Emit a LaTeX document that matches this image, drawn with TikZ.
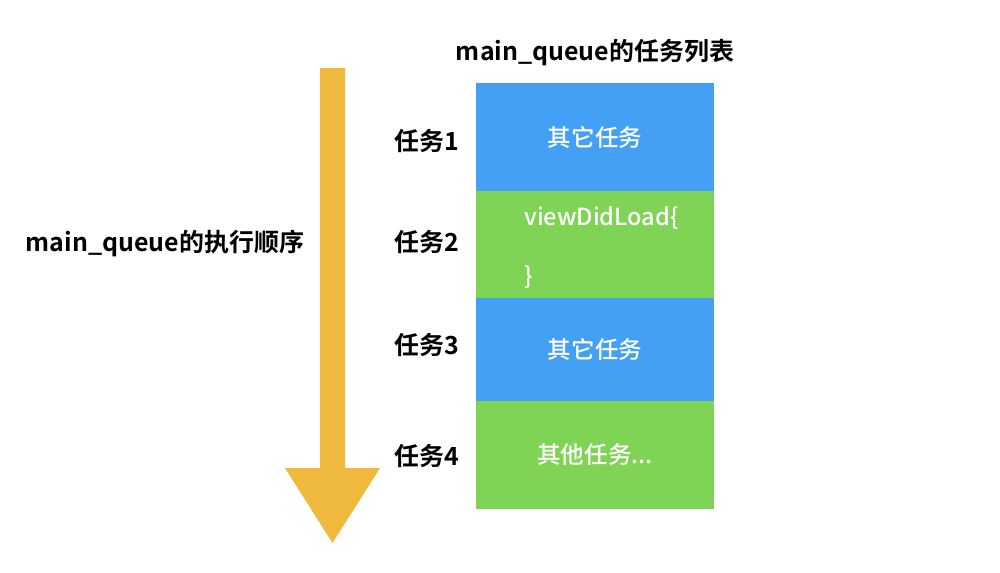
\documentclass[tikz,border=0pt]{standalone}
\usepackage{fontspec}
\setmainfont{Noto Sans CJK SC}[BoldFont={Noto Sans CJK SC Bold}]
\newfontfamily\medfont{Noto Sans CJK SC Medium}
\definecolor{taskblue}{HTML}{44A0F5}
\definecolor{taskgreen}{HTML}{80D455}
\definecolor{flow}{HTML}{EFB93E}
\tikzset{
  taskbox/.style={fill=#1,minimum width=4.76cm,inner sep=0pt,text=white,font=\medfont\fontsize{13.4}{16}\selectfont},
  lbl/.style={font=\fontsize{14.2}{17}\selectfont\bfseries}
}
\begin{document}
\begin{tikzpicture}[x=0.02cm,y=-0.02cm]
 \useasboundingbox (0,0) rectangle (1000,572);
 % execution order arrow
 \fill[flow] (320,68) -- (345,68) -- (345,468) -- (380,468) -- (332.5,543) -- (285,468) -- (320,468) -- cycle;
 \node[lbl] (order) at (165,243) {main\_queue的执行顺序};
 % task list
 \node[lbl] (title) at (595,53) {main\_queue的任务列表};
 \node[taskbox=taskblue,minimum height=2.16cm] (t1) at (595,137) {其它任务};
 \node[taskbox=taskgreen,minimum height=2.14cm] (t2) at (595,244.5) {};
 \node[taskbox=taskblue,minimum height=2.06cm] (t3) at (595,349.5) {其它任务};
 \node[taskbox=taskgreen,minimum height=2.16cm] (t4) at (595,455) {其他任务...};
 \node[anchor=west,text=white,font=\medfont\fontsize{13.4}{16}\selectfont] (load) at (518,218) {viewDidLoad\{};
 \node[anchor=west,text=white,font=\medfont\fontsize{13.4}{16}\selectfont] (brace) at (518,277) {\}};
 \foreach \i/\y in {1/141,2/242,3/345,4/456}
   \node[lbl] (n\i) at (427,\y) {任务\i};
\end{tikzpicture}
\end{document}
